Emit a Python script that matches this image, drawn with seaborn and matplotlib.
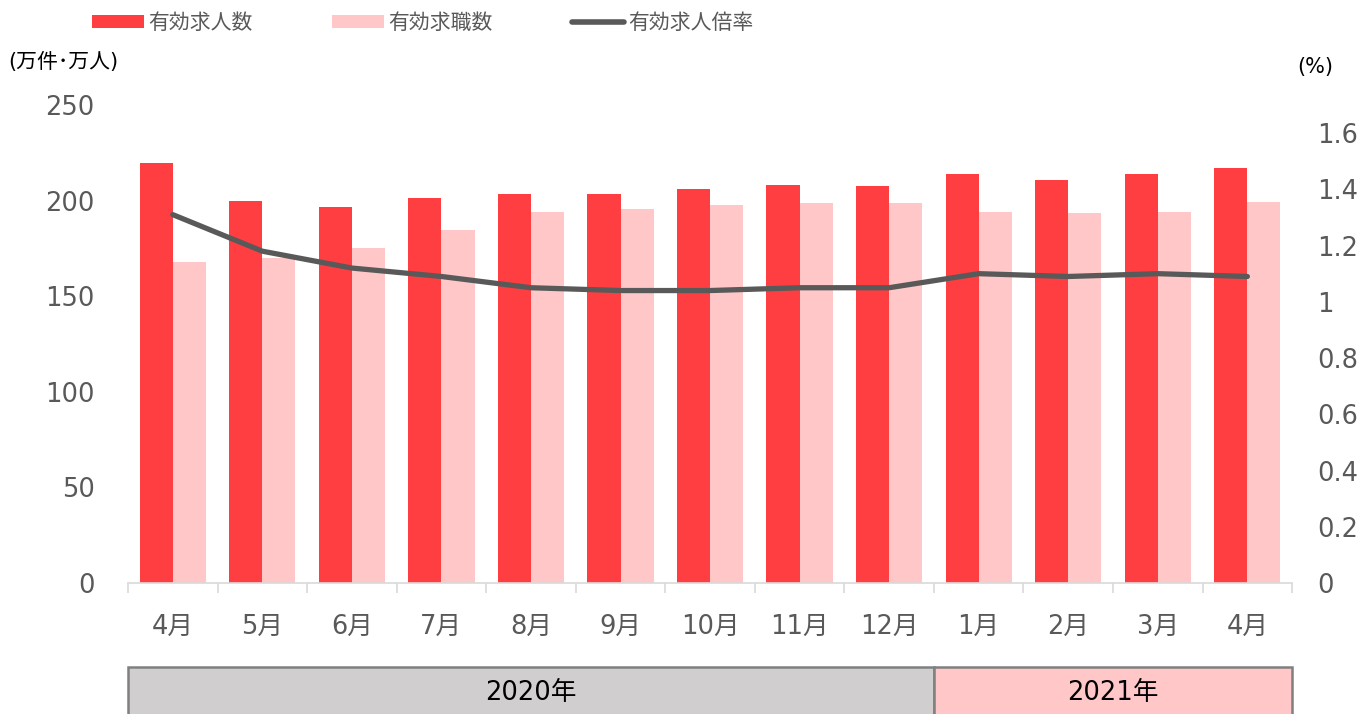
import numpy as np
import pandas as pd
import seaborn as sns
import matplotlib
matplotlib.use("Agg")
from matplotlib import pyplot as plt
from matplotlib.patches import Patch, Rectangle
from matplotlib.lines import Line2D
from matplotlib.ticker import FuncFormatter, FixedLocator
import matplotlib.transforms as mtransforms

# data
periods = ["2020-04", "2020-05", "2020-06", "2020-07", "2020-08", "2020-09", "2020-10",
           "2020-11", "2020-12", "2021-01", "2021-02", "2021-03", "2021-04"]
month_labels = ["4月", "5月", "6月", "7月", "8月", "9月", "10月", "11月", "12月",
                "1月", "2月", "3月", "4月"]
job_offers = [219.6, 199.8, 196.5, 201.2, 203.3, 203.6, 205.9, 208.2, 207.5, 213.9, 210.8, 213.9, 216.9]
job_seekers = [168.1, 169.8, 175.4, 184.8, 194.2, 195.6, 197.5, 198.7, 198.6, 193.9, 193.3, 194.2, 199.3]
ratio = [1.31, 1.18, 1.12, 1.09, 1.05, 1.04, 1.04, 1.05, 1.05, 1.10, 1.09, 1.10, 1.09]
year_groups = [("2020年", 0, 8), ("2021年", 9, 12)]

RED = "#FF3E41"
PINK = "#FFC7C7"
LINE = "#595959"
GREY_TXT = "#595959"

sns.set_style("white")
plt.rcParams['font.family'] = ['DejaVu Sans', 'Noto Sans CJK JP']

bars = pd.DataFrame({
    "period": periods * 2,
    "value": job_offers + job_seekers,
    "series": ["有効求人数"] * len(periods) + ["有効求職数"] * len(periods),
})

fig = plt.figure(figsize=(13.63, 7.14), dpi=100)
ax = fig.add_axes([0.0939, 0.1835, 0.948 - 0.0939, 0.853 - 0.1835])

sns.barplot(data=bars, x="period", y="value", hue="series", order=periods,
            palette={"有効求人数": RED, "有効求職数": PINK}, width=0.74,
            saturation=1, legend=False, ax=ax, edgecolor="none")

ax2 = ax.twinx()
sns.lineplot(x=np.arange(len(periods)), y=ratio, color=LINE, linewidth=3.8,
             ax=ax2, solid_capstyle="round", solid_joinstyle="round")

ax.set_xlim(-0.5, len(periods) - 0.5)
ax.set_ylim(0, 250)
ax2.set_ylim(0, 1.7)
ax.set_yticks(np.arange(0, 251, 50))
ax2.set_yticks(np.arange(0, 1.61, 0.2))
ax2.yaxis.set_major_formatter(FuncFormatter(lambda v, p: f"{round(v, 1):g}"))

for a in (ax, ax2):
    for s in ("top", "left", "right", "bottom"):
        a.spines[s].set_visible(False)
ax.spines["bottom"].set_visible(True)
ax.spines["bottom"].set_color("#D9D9D9")
ax.spines["bottom"].set_linewidth(1.2)

ax.set_xticks(np.arange(len(periods)))
ax.set_xticklabels(month_labels)
ax.xaxis.set_minor_locator(FixedLocator(np.arange(-0.5, len(periods), 1)))
ax.tick_params(axis="x", which="major", length=0, pad=22, labelsize=18.5, labelcolor=GREY_TXT)
ax.tick_params(axis="x", which="minor", length=7, width=1.2, color="#D9D9D9", direction="out", bottom=True)
ax.tick_params(axis="y", length=0, pad=24, labelsize=18.5, labelcolor=GREY_TXT)
ax2.tick_params(axis="y", length=0, pad=18, labelsize=18.5, labelcolor=GREY_TXT)
ax.set_xlabel("")
ax.set_ylabel("")
ax2.set_xlabel("")
ax2.set_ylabel("")
ax.grid(False)
ax2.grid(False)

# year boxes under the month labels
trans = mtransforms.blended_transform_factory(ax.transData, ax.transAxes)
box_colors = ["#D0CECE", "#FFC7C7"]
for (label, start, end), fc in zip(year_groups, box_colors):
    ax.add_patch(Rectangle((start - 0.5, -0.32), end - start + 1, 0.32 - 0.1757,
                           transform=trans, facecolor=fc, edgecolor="#808080",
                           linewidth=1.8, clip_on=False))
    ax.text((start + end) / 2, -0.231, label, transform=trans, ha="center", va="center",
            fontsize=18.5, color="black")

# unit labels
fig.text(0.006, 0.913, "(万件･万人)", fontsize=15, color="black", ha="left", va="center")
fig.text(0.952, 0.906, "(%)", fontsize=15, color="black", ha="left", va="center")

handles = [Patch(facecolor=RED, edgecolor="none"),
           Patch(facecolor=PINK, edgecolor="none"),
           Line2D([0], [0], color=LINE, linewidth=4, solid_capstyle="round")]
fig.legend(handles, ["有効求人数", "有効求職数", "有効求人倍率"], loc="center left",
           bbox_to_anchor=(0.054, 0.968), ncol=3, frameon=False, fontsize=15,
           handlelength=2.5, handleheight=0.6, handletextpad=0.2, columnspacing=3.8,
           labelcolor=GREY_TXT)

fig.savefig("out.png", dpi=100)
